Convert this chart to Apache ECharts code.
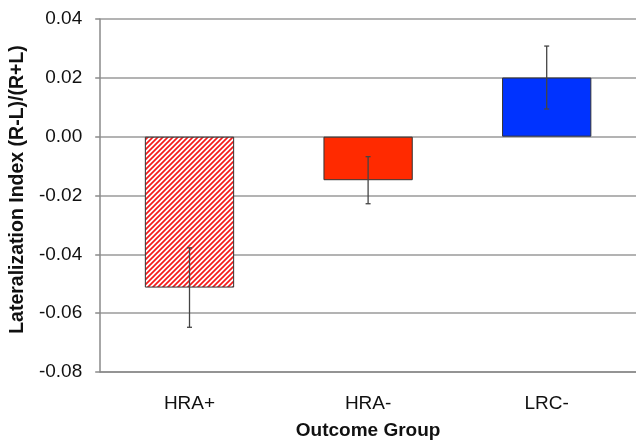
<!DOCTYPE html>
<html>
<head>
<meta charset="utf-8">
<script src="https://cdn.jsdelivr.net/npm/echarts@6/dist/echarts.min.js"></script>
<style>html,body{margin:0;padding:0;background:#fff;}#c{width:636px;height:445px;}</style>
</head>
<body>
<div id="c"></div>
<script>
var categories = ['HRA+', 'HRA-', 'LRC-'];
var values = [-0.0513, -0.0148, 0.0201];
var errors = [0.0135, 0.0080, 0.0107];
var yTicks = { min: -0.08, max: 0.04, interval: 0.02 };

function hatch() {
  var s = 5;
  var cv = document.createElement('canvas');
  cv.width = s; cv.height = s;
  var g = cv.getContext('2d');
  g.fillStyle = '#ffffff';
  g.fillRect(0, 0, s, s);
  g.strokeStyle = '#f51a1a';
  g.lineWidth = 1.7;
  g.beginPath();
  g.moveTo(-1, s + 1); g.lineTo(s + 1, -1);
  g.moveTo(-1, 1); g.lineTo(1, -1);
  g.moveTo(s - 1, s + 1); g.lineTo(s + 1, s - 1);
  g.stroke();
  return cv;
}

var barColors = [{ image: hatch(), repeat: 'repeat' }, '#ff2a00', '#0033ff'];

var chart = echarts.init(document.getElementById('c'));
chart.setOption({
  animation: false,
  textStyle: { fontFamily: 'Liberation Sans, Arial, sans-serif' },
  grid: { left: 100, top: 19, width: 540, height: 358 },
  xAxis: {
    type: 'category',
    data: categories,
    position: 'bottom',
    axisLine: { onZero: false, lineStyle: { color: '#8a8a8a', width: 1.5 } },
    axisTick: { show: false },
    axisLabel: { fontSize: 19, color: '#111', margin: 22 },
    name: 'Outcome Group',
    nameLocation: 'middle',
    nameGap: 49,
    nameTextStyle: { fontSize: 19, fontWeight: 'bold', color: '#111' }
  },
  yAxis: {
    type: 'value',
    min: yTicks.min, max: yTicks.max, interval: yTicks.interval,
    axisLine: { show: true, lineStyle: { color: '#8a8a8a', width: 1.5 } },
    axisTick: { show: true, length: 5, lineStyle: { color: '#8a8a8a', width: 1.5 } },
    splitLine: { lineStyle: { color: '#9a9a9a', width: 1.5 } },
    axisLabel: { fontSize: 19, color: '#111', margin: 18, formatter: function (v) { return v.toFixed(2); } },
    name: 'Lateralization Index (R-L)/(R+L)',
    nameLocation: 'middle',
    nameGap: 72,
    nameTextStyle: { fontSize: 19.5, fontWeight: 'bold', color: '#111', padding: [0, 0, 0, 12] }
  },
  series: [
    {
      type: 'bar',
      barWidth: '50%',
      data: values.map(function (v, i) {
        return { value: v, itemStyle: { color: barColors[i], borderColor: '#333', borderWidth: 1 } };
      })
    },
    {
      type: 'custom',
      z: 10,
      data: values.map(function (v, i) { return [i, v - errors[i], v + errors[i], v]; }),
      renderItem: function (params, api) {
        var lo = api.coord([api.value(0), api.value(1)]);
        var hi = api.coord([api.value(0), api.value(2)]);
        var x = lo[0];
        var st = { stroke: '#444', lineWidth: 1.3 };
        return {
          type: 'group',
          children: [
            { type: 'line', shape: { x1: x, y1: lo[1], x2: x, y2: hi[1] }, style: st },
            { type: 'line', shape: { x1: x - 2.5, y1: lo[1], x2: x + 2.5, y2: lo[1] }, style: st },
            { type: 'line', shape: { x1: x - 2.5, y1: hi[1], x2: x + 2.5, y2: hi[1] }, style: st }
          ]
        };
      }
    }
  ]
});
</script>
</body>
</html>
